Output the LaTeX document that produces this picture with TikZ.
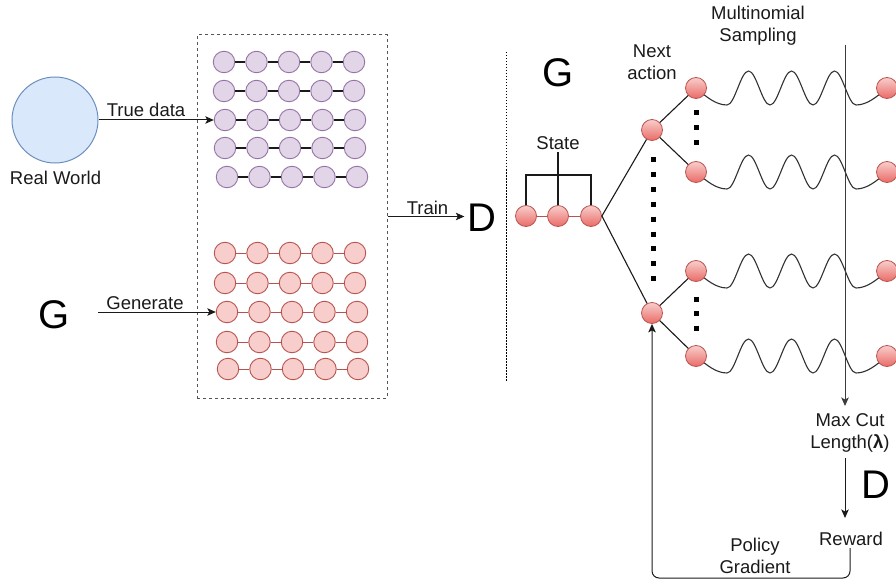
\documentclass[tikz,border=0pt]{standalone}
\usepackage{fontspec}
\setmainfont{Liberation Sans}
\usetikzlibrary{arrows.meta}
\pgfdeclarelayer{bg}
\pgfsetlayers{bg,main}
\definecolor{blueFill}{HTML}{DAE8FC}
\definecolor{blueLine}{HTML}{6C8EBF}
\definecolor{purpFill}{HTML}{E1D5E7}
\definecolor{purpLine}{HTML}{9673A6}
\definecolor{redFill}{HTML}{F8CECC}
\definecolor{redLine}{HTML}{B85450}
\definecolor{redDeep}{HTML}{EA6B66}
\definecolor{ink}{HTML}{1A1A1A}
\definecolor{boxLine}{HTML}{555555}
\begin{document}
\begin{tikzpicture}[x=1pt,y=-1pt,
  lbl/.style={font=\fontsize{18.5}{22}\selectfont, text=ink, inner sep=0pt, align=center},
  big/.style={font=\fontsize{40}{44}\selectfont, text=black, inner sep=0pt},
  arr/.style={draw=ink, line width=1pt, -{Stealth[length=8.5pt,width=7.5pt,inset=2pt]}},
  link/.style={draw=ink, line width=1.1pt},
  sample/.style={circle, draw=purpLine, fill=purpFill, line width=0.9pt, minimum size=21.5pt, inner sep=0pt},
  fake/.style={circle, draw=redLine, fill=redFill, line width=0.9pt, minimum size=21.5pt, inner sep=0pt},
  token/.style={circle, draw=redLine, line width=0.8pt, top color=redFill, bottom color=redDeep, minimum size=21pt, inner sep=0pt},
  squaredots/.style={line width=5pt, draw=black},
  wave/.style={draw=ink!90, line width=1.1pt},
]
\useasboundingbox (0,0) rectangle (896,580);

% ---------- left half: discriminator training ----------
\node[circle, draw=blueLine, fill=blueFill, line width=1pt, minimum size=86pt] (rw) at (55,120) {};
\node[lbl, anchor=base] (rwlabel) at (55.5,185) {Real World};
\node[big, anchor=base] (gleft) at (54,328) {G};

\node[draw=boxLine, dash pattern=on 3pt off 3pt, line width=1pt,
      minimum width=190pt, minimum height=363pt] (data) at (292,216.5) {};

% real sequences
\foreach \r/\yy/\xx in {1/62/224,2/91/224,3/120/225,4/148/225,5/177/227}{
  \foreach \c in {1,...,5}
    \node[sample] (p\r\c) at ({\xx+32.5*(\c-1)}, \yy) {};
  \foreach \c [count=\n from 2] in {1,...,4}
    \draw[link] (p\r\c) -- (p\r\n);
}
% generated sequences
\foreach \r/\yy/\xx in {1/253/225,2/283/225,3/312/227,4/342/227,5/369/228}{
  \foreach \c in {1,...,5}
    \node[fake] (f\r\c) at ({\xx+32.5*(\c-1)}, \yy) {};
  \foreach \c [count=\n from 2] in {1,...,4}
    \draw[draw=redLine, line width=1pt] (f\r\c) -- (f\r\n);
}

\draw[arr] (rw.east) -- (p31.west);
\node[lbl, anchor=base] (truelbl) at (146,117) {True data};

\coordinate (gstart) at (98,312);
\draw[arr] (gstart) -- (f31.west);
\node[lbl, anchor=base] (genlbl) at (145,309) {Generate};

\node[big, anchor=base] (dleft) at (482,231) {D};
\draw[arr, shorten >=3pt] (data.east) -- (data.east -| dleft.west);
\node[lbl, anchor=base] (trainlbl) at (427.5,214) {Train};

% separator
\coordinate (sepA) at (506,52);
\coordinate (sepB) at (506,382);
\draw[black, line width=0.9pt, dash pattern=on 1.5pt off 1.5pt] (sepA) -- (sepB);

% ---------- right half: generator as policy ----------
\node[big, anchor=base] (gright) at (558,87) {G};

\node[token] (s1) at (526,216) {};
\node[token] (s2) at (558,216) {};
\node[token] (s3) at (591,216) {};
\draw[draw=redLine, line width=1pt] (s1) -- (s2);
\draw[draw=redLine, line width=1pt] (s2) -- (s3);

\node[lbl, anchor=base] (statelbl) at (558,150) {State};
\coordinate (brace) at (558,175);
\draw[link] (statelbl.south) ++(0,2) -- (s2.north);
\draw[link] (s1.north) -- (s1.north |- brace) -- (s3.north |- brace) -- (s3.north);

\node[token] (a1) at (652,130) {};
\node[token] (a2) at (652,313) {};
\node[token] (b1) at (696,88) {};
\node[token] (b2) at (696,172) {};
\node[token] (b3) at (696,271) {};
\node[token] (b4) at (696,356) {};
\node[token] (e1) at (887,88) {};
\node[token] (e2) at (887,172) {};
\node[token] (e3) at (887,271) {};
\node[token] (e4) at (887,356) {};

\draw[link] (s3.east) -- (a1);
\draw[link] (s3.east) -- (a2);
\draw[link] (a1) -- (b1);
\draw[link] (a1) -- (b2);
\draw[link] (a2) -- (b3);
\draw[link] (a2) -- (b4);

% sampled continuations: a sine wave from each action to its final token
\begin{pgfonlayer}{bg}
\foreach \i in {1,...,4}
  \draw[wave] (b\i.center) sin ++(31,17)
    cos ++(10.75,-17) sin ++(10.75,-17) cos ++(10.75,17) sin ++(10.75,17)
    cos ++(10.75,-17) sin ++(10.75,-17) cos ++(10.75,17) sin ++(10.75,17)
    cos ++(10.75,-17) sin ++(10.75,-17) cos ++(10.75,17) sin ++(10.75,17)
    cos (e\i.center);
\end{pgfonlayer}

% vertical ellipses
\coordinate (dA1) at (653,157.5);
\coordinate (dA2) at (653,281);
\draw[squaredots, dash pattern=on 5pt off 9.8pt] (dA1) -- (dA2);
\coordinate (dB1) at (696,110.5);
\coordinate (dB2) at (696,145.5);
\draw[squaredots, dash pattern=on 5pt off 10pt] (dB1) -- (dB2);
\coordinate (dC1) at (696,296.5);
\coordinate (dC2) at (696,330.5);
\draw[squaredots, dash pattern=on 5pt off 9.5pt] (dC1) -- (dC2);

\node[lbl] (nextlbl) at (652,62.2) {Next\\action};
\node[lbl] (msamp) at (758,26) {Multinomial\\Sampling};

% cut and reward
\coordinate (cuttop) at (845,45);
\coordinate (cutend) at (845,406);
\draw[arr, draw=ink!85] (cuttop) -- (cutend);
\node[lbl] (maxcut) at (850,433) {Max Cut\\Length({\bfseries λ})};
\node[big, anchor=base] (dright) at (876,498) {D};

\coordinate (lenbot) at (845,458);
\coordinate (rewtop) at (845,518);
\draw[arr] (lenbot) -- (rewtop);
\node[lbl, anchor=base] (reward) at (851,545) {Reward};

\coordinate (rewbot) at (850,548);
\draw[arr, rounded corners=7pt] (rewbot) -- ++(0,30) -| (a2.south);
\node[lbl] (pglbl) at (755,555.5) {Policy\\Gradient};
\end{tikzpicture}
\end{document}
